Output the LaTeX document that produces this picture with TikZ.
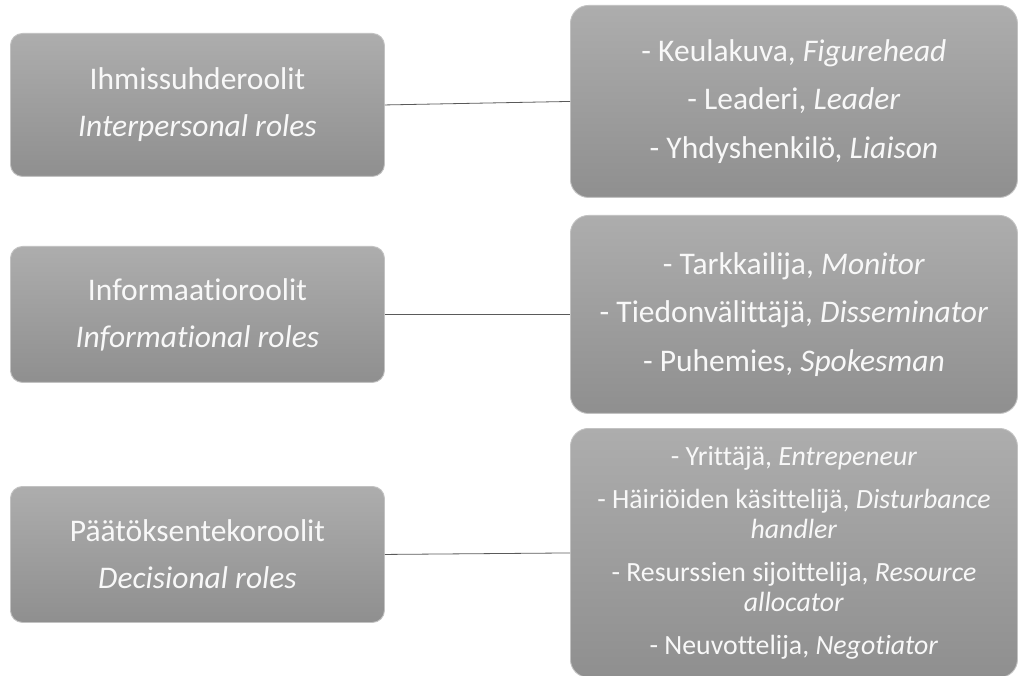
\documentclass[tikz,border=0pt]{standalone}
\usepackage{fontspec}
\setmainfont{Carlito}[Ligatures={NoCommon}]
\definecolor{boxtop}{HTML}{ADADAD}
\definecolor{boxbot}{HTML}{8F8F8F}
\definecolor{boxedge}{HTML}{C2C2C2}
\definecolor{linkc}{HTML}{5A5A5A}
\definecolor{txt}{HTML}{F8F8F8}
\begin{document}
\begin{tikzpicture}[x=1pt,y=-1pt,
  rolebox/.style={rectangle, rounded corners=12pt, top color=boxtop, bottom color=boxbot,
    draw=boxedge, line width=0.9pt, text=txt, align=center, inner sep=0pt, anchor=north west},
  leftbox/.style={rolebox, minimum width=374pt, font=\fontsize{31.5}{47}\selectfont},
  rightbox/.style={rolebox, rounded corners=18pt, minimum width=447pt, font=\fontsize{31.5}{48.5}\selectfont},
  smallbox/.style={rightbox, font=\fontsize{27.8}{30}\selectfont},
  link/.style={draw=linkc, line width=0.8pt}]
\useasboundingbox (0,0) rectangle (1018,676);

\node[leftbox, minimum height=143pt] (l1) at (10,33) {Ihmissuhderoolit\\\textit{Interpersonal roles}};
\node[leftbox, minimum height=136pt] (l2) at (10,246) {Informaatioroolit\\\textit{Informational roles}};
\node[leftbox, minimum height=136pt] (l3) at (10,486) {Päätöksentekoroolit\\\textit{Decisional roles}};

\node[rightbox, minimum height=192pt] (r1) at (570,5) {- Keulakuva, \textit{Figurehead}\\- Leaderi, \textit{Leader}\\- Yhdyshenkilö, \textit{Liaison}};
\node[rightbox, minimum height=198pt] (r2) at (570,215) {- Tarkkailija, \textit{Monitor}\\- Tiedonvälittäjä, \textit{Disseminator}\\- Puhemies, \textit{Spokesman}};
\node[smallbox, minimum height=249pt] (r3) at (570,428) {- Yrittäjä, \textit{Entrepeneur}\\[13pt]- Häiriöiden käsittelijä, \textit{Disturbance}\\\textit{handler}\\[13pt]- Resurssien sijoittelija, \textit{Resource}\\\textit{allocator}\\[13pt]- Neuvottelija, \textit{Negotiator}};

\draw[link] (l1.east) -- (r1.west);
\draw[link] (l2.east) -- (r2.west);
\draw[link] (l3.east) -- (r3.west);
\end{tikzpicture}
\end{document}
